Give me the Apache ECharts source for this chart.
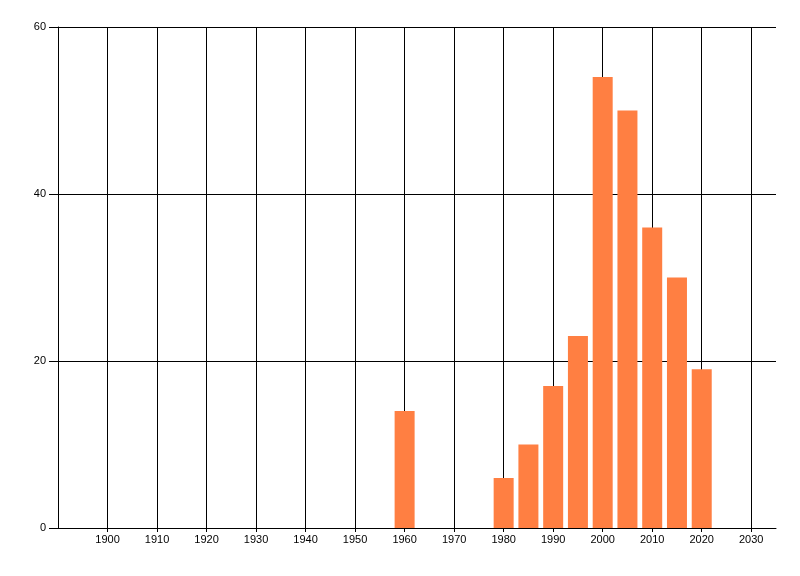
<!DOCTYPE html>
<html>
<head>
<meta charset="utf-8">
<script src="https://cdn.jsdelivr.net/npm/echarts@6/dist/echarts.min.js"></script>
<style>
html,body{margin:0;padding:0;background:#fff;}
#chart{width:800px;height:576px;}
</style>
</head>
<body>
<div id="chart"></div>
<script>
const years = [1960, 1980, 1985, 1990, 1995, 2000, 2005, 2010, 2015, 2020];
const counts = [14, 6, 10, 17, 23, 54, 50, 36, 30, 19];
const gridYears = [1900, 1910, 1920, 1930, 1940, 1950, 1960, 1970, 1980, 1990, 2000, 2010, 2020, 2030];

const chart = echarts.init(document.getElementById('chart'), null, {renderer: 'canvas'});
const font = {fontFamily: 'Liberation Sans, Arial, sans-serif', fontSize: 11, color: '#000'};
chart.setOption({
  animation: false,
  backgroundColor: '#fff',
  grid: {left: 58, right: 24, top: 27, bottom: 48, containLabel: false},
  xAxis: {
    type: 'value', min: 1890, max: 2035, interval: 10,
    axisLine: {show: true, lineStyle: {color: '#000', width: 1}},
    axisTick: {show: true, length: 4, lineStyle: {color: '#000'}},
    axisLabel: Object.assign({margin: 6, showMinLabel: false, showMaxLabel: false, formatter: v => String(v)}, font),
    splitLine: {show: false}
  },
  yAxis: {
    type: 'value', min: 0, max: 60, interval: 20,
    axisLine: {show: true, lineStyle: {color: '#000', width: 1}},
    axisTick: {show: true, length: 9, lineStyle: {color: '#000'}},
    axisLabel: Object.assign({margin: 12}, font),
    splitLine: {show: true, lineStyle: {color: '#000', width: 1}}
  },
  series: [{
    type: 'line',
    z: 1,
    data: [],
    silent: true,
    markLine: {
      z: 1,
      silent: true,
      symbol: ['none', 'none'],
      label: {show: false},
      lineStyle: {color: '#000', width: 1, type: 'solid'},
      emphasis: {disabled: true},
      data: gridYears.map(y => ({xAxis: y}))
    }
  }, {
    type: 'bar',
    z: 3,
    barWidth: 20,
    itemStyle: {color: '#FF7F42'},
    data: years.map((y, i) => [y, counts[i]])
  }]
});
</script>
</body>
</html>
